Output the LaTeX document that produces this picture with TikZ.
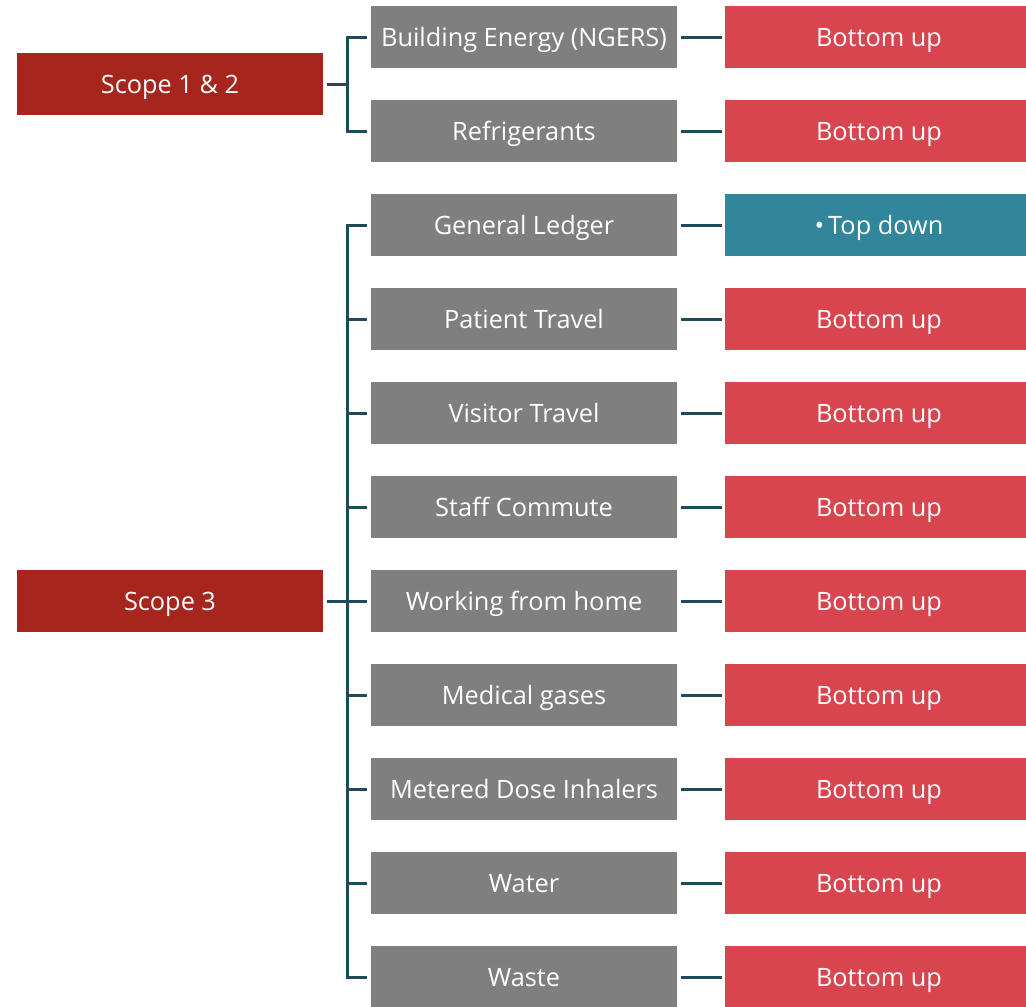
\documentclass[tikz,border=0pt]{standalone}
\usepackage{fontspec}
\setmainfont{Open Sans}
\usetikzlibrary{positioning}
\definecolor{scopered}{HTML}{A6261E}
\definecolor{catgrey}{HTML}{7F7F7F}
\definecolor{bottomred}{HTML}{D9454F}
\definecolor{topteal}{HTML}{31869B}
\definecolor{linkteal}{HTML}{1D4B5A}

\begin{document}
\begin{tikzpicture}[x=1pt,y=-1pt,
		box/.style={
			inner sep=0pt,
			outer sep=0pt,
			minimum height=62pt,
			text height=20pt,
			text depth=2pt,
			text=white,
			font=\fontsize{25.3}{30}\selectfont
		},
		scopebox/.style={box,fill=scopered,minimum width=306pt},
		cat/.style={box,fill=catgrey,minimum width=306pt},
		method/.style={box,minimum width=301pt,
			execute at begin node={\hspace*{7pt}}},
		bottom/.style={method,fill=bottomred},
		top/.style={method,fill=topteal},
		link/.style={draw=linkteal,line width=3pt},
		node distance=32pt and 48pt
		]
		\useasboundingbox (0,0) rectangle (1026,1007);

		% categories
		\node[cat] at (524,37) (energy) {Building Energy (NGERS)};
		\node[cat,below=of energy] (refrig) {Refrigerants};
		\node[cat,below=of refrig] (ledger) {General Ledger};
		\node[cat,below=of ledger] (patient) {Patient Travel};
		\node[cat,below=of patient] (visitor) {Visitor Travel};
		\node[cat,below=of visitor] (commute) {Staff Commute};
		\node[cat,below=of commute] (home) {Working from home};
		\node[cat,below=of home] (gases) {Medical gases};
		\node[cat,below=of gases] (inhaler) {Metered Dose Inhalers};
		\node[cat,below=of inhaler] (water) {Water};
		\node[cat,below=of water] (waste) {Waste};

		% methods
		\node[bottom,right=of energy] (energyM) {Bottom up};
		\node[bottom,right=of refrig] (refrigM) {Bottom up};
		\node[top,right=of ledger] (ledgerM) {\textbullet\hspace{4pt}Top down};
		\node[bottom,right=of patient] (patientM) {Bottom up};
		\node[bottom,right=of visitor] (visitorM) {Bottom up};
		\node[bottom,right=of commute] (commuteM) {Bottom up};
		\node[bottom,right=of home] (homeM) {Bottom up};
		\node[bottom,right=of gases] (gasesM) {Bottom up};
		\node[bottom,right=of inhaler] (inhalerM) {Bottom up};
		\node[bottom,right=of water] (waterM) {Bottom up};
		\node[bottom,right=of waste] (wasteM) {Bottom up};

		% scopes
		\node[scopebox] at (170,84) (s12) {Scope 1 \& 2};
		\node[scopebox] at (170,601) (s3) {Scope 3};

		\coordinate (b12) at ([xshift=24pt]s12.east);
		\coordinate (b3) at ([xshift=24pt]s3.east);

		\draw[link] ([xshift=4pt]s12.east) -- (b12);
		\draw[link] ([xshift=-4pt]energy.west) -| (b12) |- ([xshift=-4pt]refrig.west);

		\draw[link] ([xshift=4pt]s3.east) -- ([xshift=-4pt]home.west);
		\draw[link] ([xshift=-4pt]ledger.west) -| (b3) |- ([xshift=-4pt]waste.west);
		\draw[link] ([xshift=-4pt]patient.west) -- (patient.west-|b3);
		\draw[link] ([xshift=-4pt]visitor.west) -- (visitor.west-|b3);
		\draw[link] ([xshift=-4pt]commute.west) -- (commute.west-|b3);
		\draw[link] ([xshift=-4pt]gases.west) -- (gases.west-|b3);
		\draw[link] ([xshift=-4pt]inhaler.west) -- (inhaler.west-|b3);
		\draw[link] ([xshift=-4pt]water.west) -- (water.west-|b3);

		\draw[link] ([xshift=4pt]energy.east) -- ([xshift=-3pt]energyM.west);
		\draw[link] ([xshift=4pt]refrig.east) -- ([xshift=-3pt]refrigM.west);
		\draw[link] ([xshift=4pt]ledger.east) -- ([xshift=-3pt]ledgerM.west);
		\draw[link] ([xshift=4pt]patient.east) -- ([xshift=-3pt]patientM.west);
		\draw[link] ([xshift=4pt]visitor.east) -- ([xshift=-3pt]visitorM.west);
		\draw[link] ([xshift=4pt]commute.east) -- ([xshift=-3pt]commuteM.west);
		\draw[link] ([xshift=4pt]home.east) -- ([xshift=-3pt]homeM.west);
		\draw[link] ([xshift=4pt]gases.east) -- ([xshift=-3pt]gasesM.west);
		\draw[link] ([xshift=4pt]inhaler.east) -- ([xshift=-3pt]inhalerM.west);
		\draw[link] ([xshift=4pt]water.east) -- ([xshift=-3pt]waterM.west);
		\draw[link] ([xshift=4pt]waste.east) -- ([xshift=-3pt]wasteM.west);
\end{tikzpicture}
\end{document}
